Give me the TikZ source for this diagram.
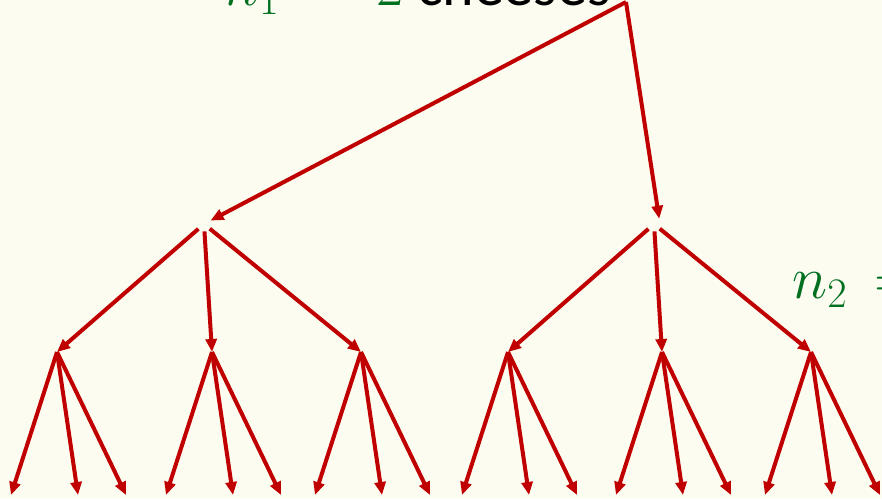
\RequirePackage{fix-cm}
\documentclass[tikz,border=0pt]{standalone}
\usepackage{fontspec}
\setmainfont{Carlito}
\usetikzlibrary{arrows.meta}
\definecolor{cream}{RGB}{253,252,240}
\definecolor{treered}{RGB}{192,0,0}
\definecolor{countgreen}{RGB}{0,112,32}

\begin{document}
\begin{tikzpicture}[x=0.5pt,y=-0.5pt,>={Triangle[length=6.5pt,width=5.5pt]},
  branch/.style={->,treered,line width=2pt},
  fork/.style={circle,inner sep=0pt,minimum size=7pt},
  count/.style={font=\fontsize{30}{36}\selectfont}]
  \useasboundingbox (0,0) rectangle (882,499);
  \clip (0,0) rectangle (882,499);
  \fill[cream] (0,0) rectangle (882,499);

  % labels
  \node[count,anchor=base east,inner sep=0pt] (ncheese) at (611,5)
    {\textcolor{countgreen}{$n_1 \,=\, 2$} cheeses};
  \node[count,anchor=base west,inner sep=0pt,text=countgreen] (nsecond) at (792,298)
    {$n_2 \,=$};

  % tree
  \coordinate (root) at (626,2);
  \node[fork] (L) at (204,224) {};
  \node[fork] (R) at (654,224) {};
  \coordinate (a) at (57,352);
  \coordinate (b) at (212,352);
  \coordinate (c) at (361,352);
  \coordinate (d) at (508,352);
  \coordinate (e) at (662,352);
  \coordinate (f) at (811,352);

  \draw[branch] (root) -- (L);
  \draw[branch] (root) -- (R.north east);
  \foreach \p/\c in {L/a,L/b,L/c,R/d,R/e,R/f}
    \draw[branch] (\p) -- (\c);

  \foreach \c in {a,b,c,d,e,f} {
    \path (\c) ++(-46,143) coordinate (\c1)
          (\c) ++(21,143) coordinate (\c2)
          (\c) ++(69,143) coordinate (\c3);
    \draw[branch] (\c) -- (\c1);
    \draw[branch] (\c) -- (\c2);
    \draw[branch] (\c) -- (\c3);
  }
\end{tikzpicture}
\end{document}
